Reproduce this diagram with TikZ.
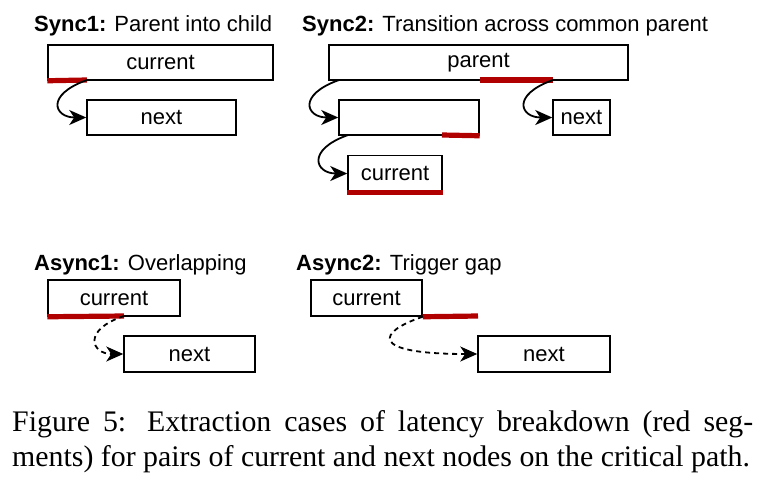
\documentclass[tikz,border=0pt]{standalone}
\usepackage{fontspec}
\setmainfont{Liberation Serif}
\setsansfont{Liberation Sans}
\usetikzlibrary{arrows.meta,positioning}
\definecolor{critred}{HTML}{B00000}

\begin{document}
\begin{tikzpicture}[
        x=1pt, y=-1pt,
        box/.style={draw, line width=1.5pt, minimum height=35pt, inner sep=0pt, font=\sffamily\fontsize{22}{26}\selectfont},
        title/.style={anchor=base west, inner sep=0pt, font=\sffamily\fontsize{22}{26}\selectfont},
        crit/.style={draw=critred, line width=5.2pt},
        flow/.style={-{Stealth[length=17pt,width=15pt,inset=5pt]}, line width=1.8pt},
        trig/.style={flow, dash pattern=on 5pt off 4pt}
    ]
    \useasboundingbox (0,0) rectangle (771,483);
    % Sync1
    \node[title] (t1) at (34,31) {\textbf{Sync1:} Parent into child};
    \node[box, minimum width=225pt] (cur1) at (160.5,62.5) {current};
    \node[box, minimum width=149pt] (next1) at (161.5,117.5) {next};
    \coordinate (e1) at (87,80);
    \draw[crit] (cur1.south west) -- (e1);
    \draw[flow] (e1) .. controls +(-42,15) and +(-32,0) .. (next1.west);
    % Sync2
    \node[title] (t2) at (302,31) {\textbf{Sync2:} Transition across common parent};
    \node[box, minimum width=299pt] (par2) at (478.5,62.5) {parent};
    \node[box, minimum width=140pt] (mid2) at (409,117.5) {};
    \node[box, minimum width=57pt] (next2) at (581.5,117.5) {next};
    \node[box, minimum width=94pt, minimum height=36pt] (cur2) at (395,173.5) {current};
    \coordinate (p2) at (339,80);
    \coordinate (s2) at (480,80);
    \coordinate (e2) at (553,80);
    \coordinate (m2) at (442,135);
    \coordinate (q2) at (348,135);
    \draw[crit] (s2) -- (e2);
    \draw[crit] (m2) -- (mid2.south east);
    \draw[crit] (cur2.south west) -- (cur2.south east);
    \draw[flow] (p2) .. controls +(-42,15) and +(-32,0) .. (mid2.west);
    \draw[flow] (e2) .. controls +(-42,15) and +(-32,0) .. (next2.west);
    \draw[flow] (q2) .. controls +(-42,15) and +(-32,0) .. (cur2.west);
    % Async1
    \node[title] (t3) at (34,270) {\textbf{Async1:} Overlapping};
    \node[box, minimum width=132pt, minimum height=36pt] (cur3) at (114,298) {current};
    \node[box, minimum width=131pt, minimum height=36pt] (next3) at (189.5,354) {next};
    \coordinate (e3) at (124,316);
    \draw[crit] (cur3.south west) -- (e3);
    \draw[trig] (e3) .. controls +(-42,14) and +(-32,0) .. (next3.west);
    % Async2
    \node[title] (t4) at (296,270) {\textbf{Async2:} Trigger gap};
    \node[box, minimum width=111pt, minimum height=36pt] (cur4) at (366.5,298) {current};
    \node[box, minimum width=132pt, minimum height=36pt] (next4) at (544,354) {next};
    \coordinate (e4) at (478,316);
    \draw[crit] (cur4.south east) -- (e4);
    \draw[trig] (cur4.south east) .. controls +(-45,15) and +(-110,0) .. (next4.west);
    % caption
    \node[anchor=base west, inner sep=0pt, text width=741pt, align=justify,
          font=\fontsize{29.85}{35}\selectfont] (cap) at (12,431.7)
        {Figure 5: Extraction cases of latency breakdown (red seg-\linebreak ments) for pairs of current and next nodes on the critical path.};
\end{tikzpicture}
\end{document}
